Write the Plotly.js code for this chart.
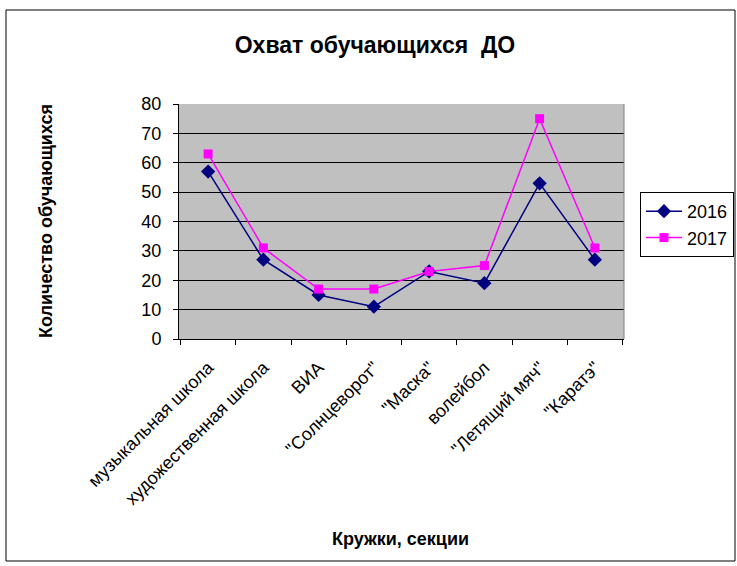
<!DOCTYPE html>
<html>
<head>
<meta charset="utf-8">
<script src="https://cdn.plot.ly/plotly-3.0.1.min.js"></script>
<style>html,body{margin:0;padding:0;background:#fff;}#chart{width:737px;height:566px;}</style>
</head>
<body>
<div id="chart"></div>
<script>
const categories = ['музыкальная школа', 'художественная школа', 'ВИА', '"Солнцеворот"', '"Маска"', 'волейбол', '"Летящий мяч"', '"Каратэ"'];
const values2016 = [57, 27, 15, 11, 23, 19, 53, 27];
const values2017 = [63, 31, 17, 17, 23, 25, 75, 31];
const yTicks = [0, 10, 20, 30, 40, 50, 60, 70, 80];

const W = 737, H = 566;
const L = 179, R = 624, T = 104, B = 339;
const pw = R - L, ph = B - T;
function px(x){ return (x - L) / pw; }
function py(y){ return (B - y) / ph; }

const traces = [
  {x: categories, y: values2016, name: '2016', type: 'scatter', mode: 'lines+markers', legendgroup: 'a',
   line: {color: '#000080', width: 1.5}, marker: {symbol: 'diamond', size: 11, color: '#000080'}},
  {x: categories, y: values2017, name: '2017', type: 'scatter', mode: 'lines+markers', legendgroup: 'b',
   line: {color: '#FF00FF', width: 1.5}, marker: {symbol: 'square', size: 9, color: '#FF00FF'}}
];

const layout = {
  width: W, height: H,
  margin: {l: L, r: W - R, t: T, b: H - B, pad: 0, autoexpand: false},
  paper_bgcolor: '#ffffff',
  plot_bgcolor: '#C0C0C0',
  font: {family: 'Arial, "Liberation Sans", sans-serif', size: 18, color: '#000'},
  title: {text: '<b>Охват обучающихся  ДО</b>', font: {size: 23, color: '#000'}, x: px(375), xanchor: 'center', y: 1 - 45/H, yanchor: 'middle', xref: 'paper'},
  xaxis: {
    type: 'category', tickson: 'boundaries', ticks: 'outside', ticklen: 5, tickcolor: '#000',
    showgrid: false, showline: true, linecolor: '#000', linewidth: 1,
    tickangle: -45, tickfont: {size: 18}, zeroline: false, ticklabelstandoff: 10
  },
  yaxis: {
    range: [0, 80], tickvals: yTicks, ticktext: yTicks.map(String), ticks: 'outside', ticklen: 5, tickcolor: '#000',
    showgrid: true, gridcolor: '#000', gridwidth: 1, showline: true, linecolor: '#000', linewidth: 1,
    zeroline: false, tickfont: {size: 18}, ticklabelstandoff: 8
  },
  annotations: [
    {text: '<b>Количество обучающихся</b>', xref: 'paper', yref: 'paper', x: px(46), y: py(221), textangle: -90,
     showarrow: false, xanchor: 'center', yanchor: 'middle', font: {size: 18}},
    {text: '<b>Кружки, секции</b>', xref: 'paper', yref: 'paper', x: px(400), y: py(539),
     showarrow: false, xanchor: 'center', yanchor: 'middle', font: {size: 18}}
  ],
  showlegend: true,
  legend: {x: px(640), y: py(192), xanchor: 'left', yanchor: 'top', bgcolor: '#fff', bordercolor: '#000', borderwidth: 1,
           font: {size: 18}, traceorder: 'grouped', tracegroupgap: 0, itemwidth: 36},
  shapes: [
    {type: 'rect', xref: 'paper', yref: 'paper', x0: px(6), x1: px(735), y0: py(561), y1: py(10), line: {color: '#000', width: 1}, layer: 'below'},
    {type: 'line', xref: 'paper', yref: 'paper', x0: 1, x1: 1, y0: 0, y1: 1, line: {color: '#808080', width: 1}}
  ]
};

Plotly.newPlot('chart', traces, layout, {staticPlot: true});
</script>
</body>
</html>
